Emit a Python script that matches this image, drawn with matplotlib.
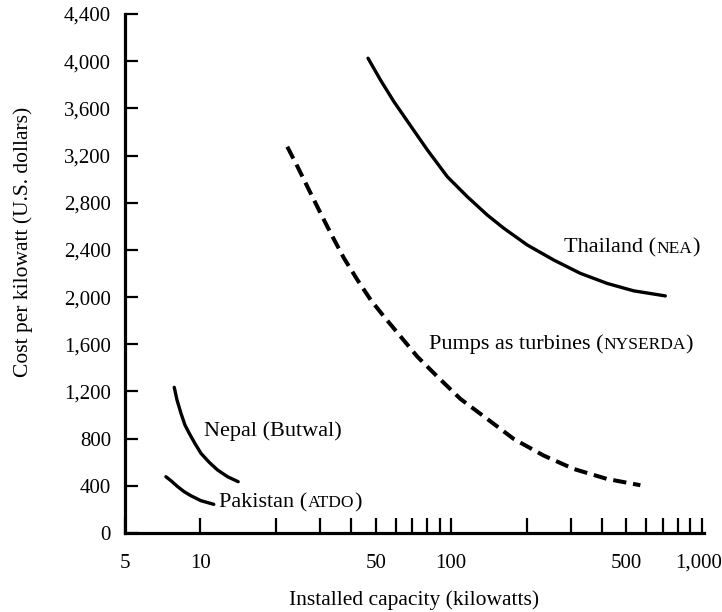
import matplotlib
matplotlib.use('Agg')
import matplotlib.pyplot as plt
from matplotlib.ticker import FixedLocator, FixedFormatter, FuncFormatter
from matplotlib.transforms import offset_copy, blended_transform_factory

plt.rcParams['font.family'] = ['Liberation Serif', 'DejaVu Serif']

# curves (kilowatts, US$ per kW)
thailand_kw = [46.6, 52.3, 59.1, 70.0, 80.4, 96.5, 116.0, 139.3, 162.3, 201.1,
               256.7, 327.8, 419.0, 534.7, 715.0]
thailand_cost = [4025, 3839, 3657, 3431, 3247, 3021, 2851, 2696, 2583, 2442,
                 2314, 2201, 2116, 2053, 2010]

pumps_kw = [22.2, 24.4, 26.7, 29.7, 33.1, 37.4, 42.3, 47.8, 54.0, 62.9,
            73.3, 88.1, 109.0, 139.3, 177.8, 234.2, 308.3, 419.0, 568.6]
pumps_cost = [3275, 3105, 2936, 2738, 2540, 2328, 2145, 1975, 1834, 1665,
              1495, 1326, 1136, 967, 797, 656, 543, 458, 405]

nepal_kw = [7.86, 8.06, 8.36, 8.67, 9.02, 9.50, 10.04, 10.84, 11.70, 12.83, 14.14]
nepal_cost = [1235, 1128, 1015, 916, 845, 760, 676, 599, 534, 477, 435]

pakistan_kw = [7.28, 7.63, 8.11, 8.61, 9.16, 10.04, 11.3]
pakistan_cost = [477, 443, 393, 350, 316, 274, 243]

y_ticks = list(range(0, 4401, 400))
x_ticks = [5, 10, 20, 30, 40, 50, 60, 70, 80, 90, 100,
           200, 300, 400, 500, 600, 700, 800, 900, 1000]
x_labeled = {5: '5', 10: '10', 50: '50', 100: '100', 500: '500'}

fig = plt.figure(figsize=(7.22, 6.12), dpi=100)
ax = fig.add_axes([125/722, 79/612, 579/722, 519/612])

ax.plot(thailand_kw, thailand_cost, color='black', lw=2.4, solid_capstyle='round')
ax.plot(pumps_kw, pumps_cost, color='black', lw=2.9, dashes=(3.3, 1.7))
ax.plot(nepal_kw, nepal_cost, color='black', lw=2.4, solid_capstyle='round')
ax.plot(pakistan_kw, pakistan_cost, color='black', lw=2.4, solid_capstyle='round')

ax.set_xscale('log')
ax.set_xlim(5, 1020)
ax.set_ylim(0, 4400)

ax.xaxis.set_major_locator(FixedLocator(x_ticks))
ax.xaxis.set_major_formatter(FixedFormatter([x_labeled.get(t, '') for t in x_ticks]))
ax.xaxis.set_minor_locator(FixedLocator([]))
ax.set_yticks(y_ticks)
ax.yaxis.set_major_formatter(FuncFormatter(lambda v, p: f'{int(v):,}'))

ax.tick_params(axis='x', direction='in', length=11, width=1.6, pad=15, labelsize=15)
ax.tick_params(axis='y', direction='in', length=9.5, width=1.6, pad=10, labelsize=15)

# last x label sits a bit left so it stays inside the figure
tr_last = offset_copy(blended_transform_factory(ax.transData, ax.transAxes),
                      fig=fig, x=20, y=0, units='dots')
ax.text(1000, -0.040, '1,000', fontsize=15, ha='right', va='top', transform=tr_last)

for s in ['top', 'right']:
    ax.spines[s].set_visible(False)
for s in ['left', 'bottom']:
    ax.spines[s].set_linewidth(2.3)

ax.set_xlabel('Installed capacity (kilowatts)', fontsize=15.5)
ax.xaxis.set_label_coords(0.5, -0.11)
ax.set_ylabel('Cost per kilowatt (U.S. dollars)', fontsize=15.5, va='center')
ax.yaxis.set_label_coords(-0.176, 0.56)

renderer = fig.canvas.get_renderer()


def label(x, y, parts):
    # pieces share one baseline; small caps are set smaller
    dx = 0
    for txt, size in parts:
        tr = offset_copy(ax.transData, fig=fig, x=dx, y=0, units='dots')
        t = ax.text(x, y, txt, fontsize=size, va='baseline', transform=tr)
        dx += t.get_window_extent(renderer).width


label(282, 2374, [('Thailand (', 16), ('NEA', 12.5), (')', 16)])
label(81.3, 1560, [('Pumps as turbines (', 16), ('NYSERDA', 12.5), (')', 16)])
label(10.3, 822, [('Nepal (Butwal)', 16)])
label(11.9, 220, [('Pakistan (', 16), ('ATDO', 12.5), (')', 16)])

plt.savefig('out.png', dpi=100)
